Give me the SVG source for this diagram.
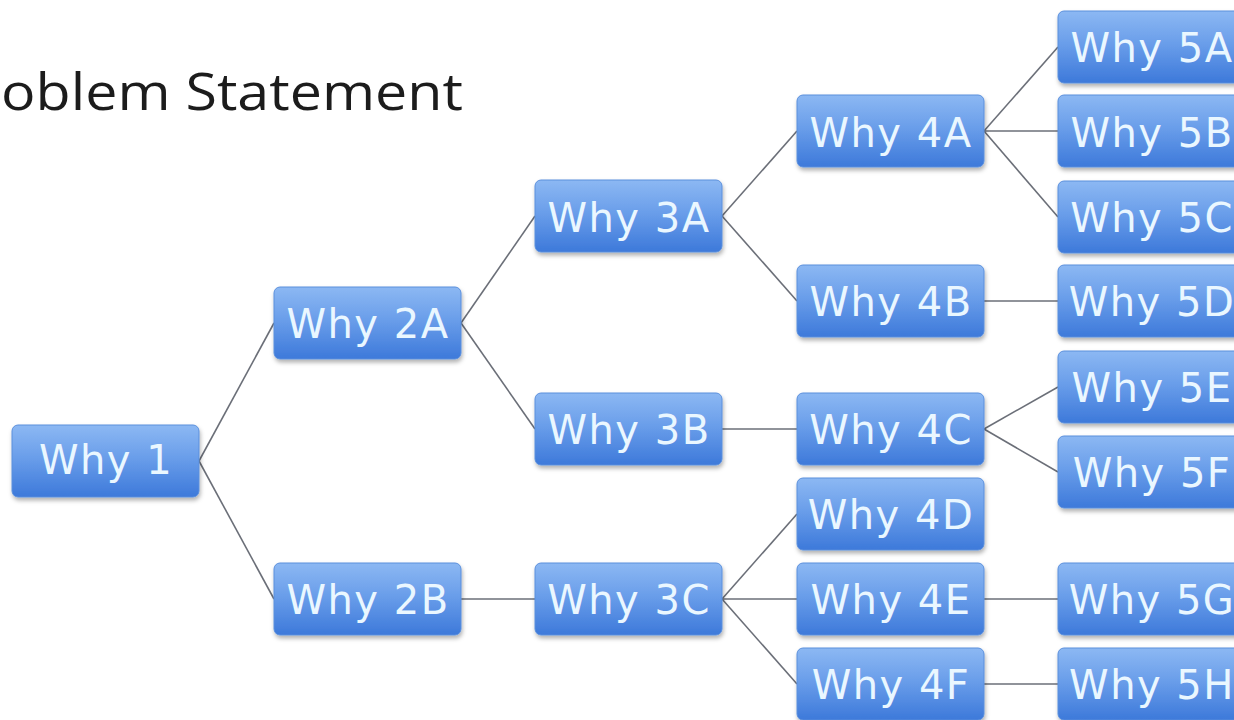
<svg xmlns="http://www.w3.org/2000/svg" width="1234" height="720" viewBox="0 0 1234 720">
  <defs>
    <linearGradient id="boxGrad" x1="0" y1="0" x2="0" y2="1">
      <stop offset="0" stop-color="#8cb8f3"/>
      <stop offset="0.45" stop-color="#6a9eea"/>
      <stop offset="1" stop-color="#3d79da"/>
    </linearGradient>
    <filter id="shadow" x="-10%" y="-10%" width="125%" height="135%">
      <feDropShadow dx="1" dy="3" stdDeviation="2" flood-color="#000000" flood-opacity="0.3"/>
    </filter>
  </defs>
  <style>
    .box { fill: url(#boxGrad); stroke: #5a8fdc; stroke-width: 1; filter: url(#shadow); }
    .lbl { font-family: "DejaVu Sans", Verdana, sans-serif; font-size: 40px; letter-spacing: 1.5px; fill: #eaf7ff; text-anchor: middle; }
    .conn line { stroke: #6b6f78; stroke-width: 1.6; }
    .title { font-family: "Open Sans", "DejaVu Sans", sans-serif; font-size: 52px; fill: #1c1c1c; }
  </style>
  <rect width="1234" height="720" fill="#ffffff"/>

  <text class="title" x="1" y="110" textLength="462" lengthAdjust="spacingAndGlyphs">oblem Statement</text>

  <g id="connectors" class="conn">
    <line x1="199" y1="461" x2="274" y2="323"/>
    <line x1="199" y1="461" x2="274" y2="599"/>
    <line x1="461" y1="323" x2="535" y2="216"/>
    <line x1="461" y1="323" x2="535" y2="429"/>
    <line x1="461" y1="599" x2="535" y2="599"/>
    <line x1="722" y1="216" x2="797" y2="131"/>
    <line x1="722" y1="216" x2="797" y2="301"/>
    <line x1="722" y1="429" x2="797" y2="429"/>
    <line x1="722" y1="599" x2="797" y2="514"/>
    <line x1="722" y1="599" x2="797" y2="599"/>
    <line x1="722" y1="599" x2="797" y2="684"/>
    <line x1="984" y1="131" x2="1058" y2="47"/>
    <line x1="984" y1="131" x2="1058" y2="131"/>
    <line x1="984" y1="131" x2="1058" y2="217"/>
    <line x1="984" y1="301" x2="1058" y2="301"/>
    <line x1="984" y1="429" x2="1058" y2="387"/>
    <line x1="984" y1="429" x2="1058" y2="472"/>
    <line x1="984" y1="599" x2="1058" y2="599"/>
    <line x1="984" y1="684" x2="1058" y2="684"/>
  </g>

  <g id="why1"><rect class="box" x="12" y="425" width="187" height="72" rx="6"/><text class="lbl" x="106" y="474">Why 1</text></g>
  <g id="why2a"><rect class="box" x="274" y="287" width="187" height="72" rx="6"/><text class="lbl" x="368" y="338">Why 2A</text></g>
  <g id="why2b"><rect class="box" x="274" y="563" width="187" height="72" rx="6"/><text class="lbl" x="368" y="614">Why 2B</text></g>
  <g id="why3a"><rect class="box" x="535" y="180" width="187" height="72" rx="6"/><text class="lbl" x="629" y="232">Why 3A</text></g>
  <g id="why3b"><rect class="box" x="535" y="393" width="187" height="72" rx="6"/><text class="lbl" x="629" y="444">Why 3B</text></g>
  <g id="why3c"><rect class="box" x="535" y="563" width="187" height="72" rx="6"/><text class="lbl" x="629" y="614">Why 3C</text></g>
  <g id="why4a"><rect class="box" x="797" y="95" width="187" height="72" rx="6"/><text class="lbl" x="891" y="147">Why 4A</text></g>
  <g id="why4b"><rect class="box" x="797" y="265" width="187" height="72" rx="6"/><text class="lbl" x="891" y="316">Why 4B</text></g>
  <g id="why4c"><rect class="box" x="797" y="393" width="187" height="72" rx="6"/><text class="lbl" x="891" y="444">Why 4C</text></g>
  <g id="why4d"><rect class="box" x="797" y="478" width="187" height="72" rx="6"/><text class="lbl" x="891" y="529">Why 4D</text></g>
  <g id="why4e"><rect class="box" x="797" y="563" width="187" height="72" rx="6"/><text class="lbl" x="891" y="614">Why 4E</text></g>
  <g id="why4f"><rect class="box" x="797" y="648" width="187" height="72" rx="6"/><text class="lbl" x="891" y="699">Why 4F</text></g>
  <g id="why5a"><rect class="box" x="1058" y="11" width="187" height="72" rx="6"/><text class="lbl" x="1152" y="62">Why 5A</text></g>
  <g id="why5b"><rect class="box" x="1058" y="95" width="187" height="72" rx="6"/><text class="lbl" x="1152" y="147">Why 5B</text></g>
  <g id="why5c"><rect class="box" x="1058" y="181" width="187" height="72" rx="6"/><text class="lbl" x="1152" y="232">Why 5C</text></g>
  <g id="why5d"><rect class="box" x="1058" y="265" width="187" height="72" rx="6"/><text class="lbl" x="1152" y="316">Why 5D</text></g>
  <g id="why5e"><rect class="box" x="1058" y="351" width="187" height="72" rx="6"/><text class="lbl" x="1152" y="402">Why 5E</text></g>
  <g id="why5f"><rect class="box" x="1058" y="436" width="187" height="72" rx="6"/><text class="lbl" x="1152" y="487">Why 5F</text></g>
  <g id="why5g"><rect class="box" x="1058" y="563" width="187" height="72" rx="6"/><text class="lbl" x="1152" y="614">Why 5G</text></g>
  <g id="why5h"><rect class="box" x="1058" y="648" width="187" height="72" rx="6"/><text class="lbl" x="1152" y="699">Why 5H</text></g>
</svg>
